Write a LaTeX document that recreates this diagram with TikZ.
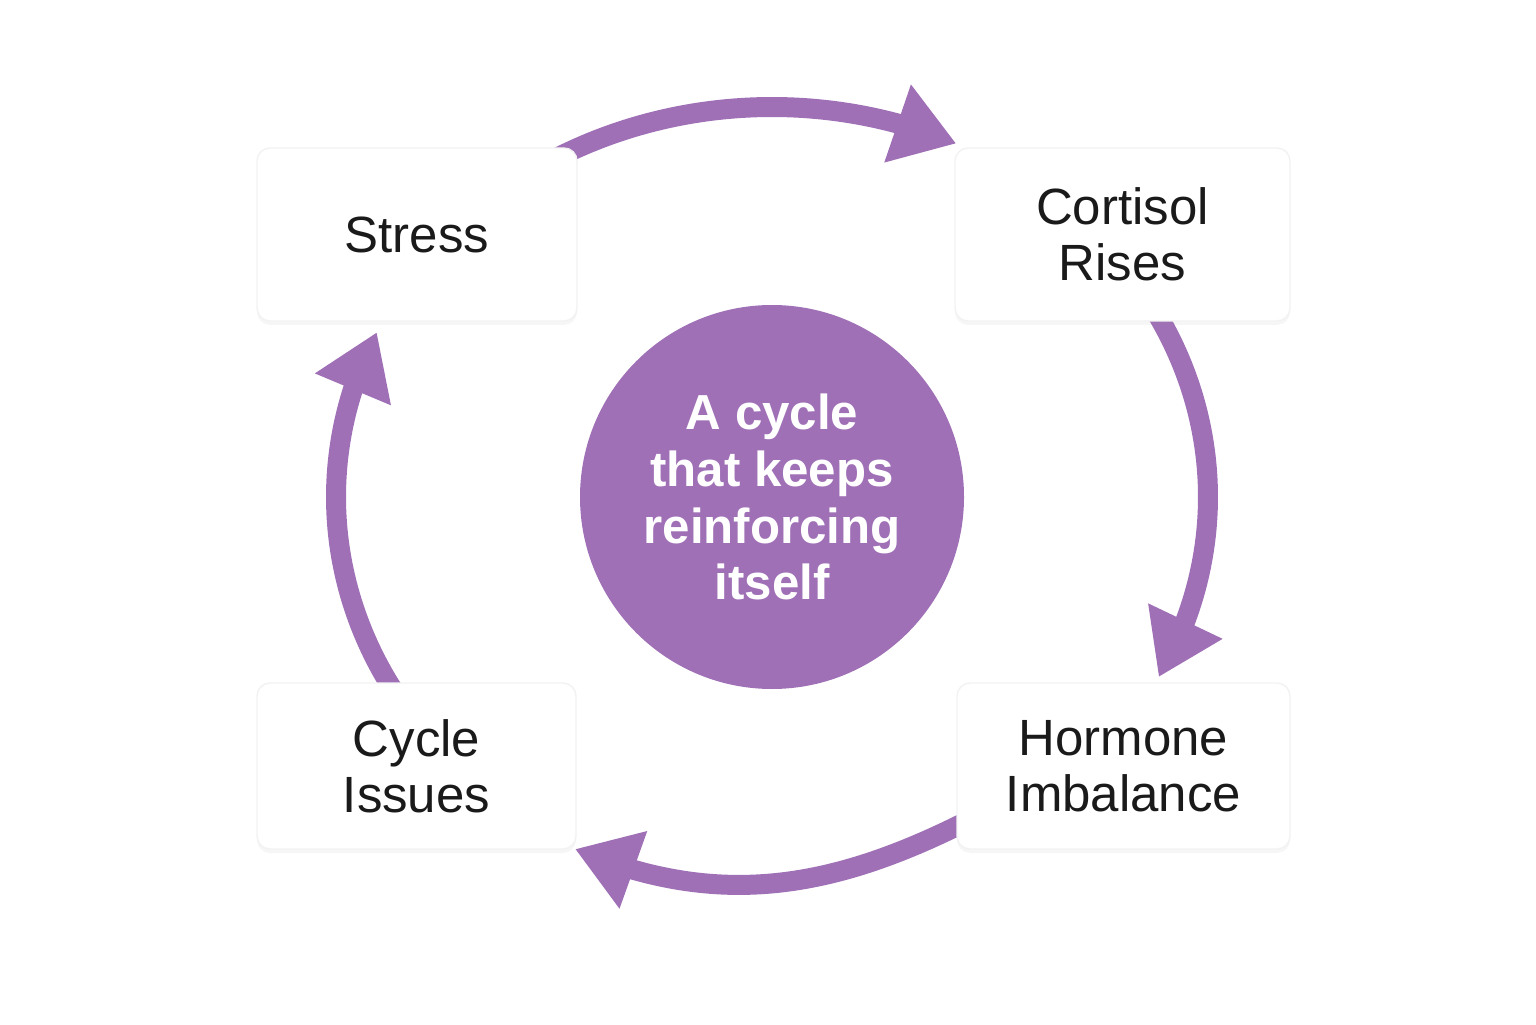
\documentclass[tikz,border=0pt]{standalone}
\usepackage{fontspec}
\setmainfont{Liberation Sans}
\usetikzlibrary{arrows.meta}
\usetikzlibrary{bending}
\usetikzlibrary{shadows}
\usetikzlibrary{backgrounds}
\usetikzlibrary{calc}
\definecolor{cyclepurple}{RGB}{160,112,183}
\definecolor{labelgray}{RGB}{26,26,26}

\begin{document}
\begin{tikzpicture}[>={Triangle[length=0.62cm,width=0.78cm,flex]},
    stage/.style={rectangle, rounded corners=0.13cm, fill=white, draw=black!5,
      drop shadow={opacity=0.07, shadow xshift=0cm, shadow yshift=-0.04cm},
      align=center, text=labelgray, inner sep=0pt,
      font=\fontsize{14.5}{16}\selectfont},
    cyclearrow/.style={->, line width=0.2cm, cyclepurple}]
  \useasboundingbox (0,0) rectangle (15.36,10.24);

  \node[circle, fill=cyclepurple, minimum size=3.84cm, inner sep=0pt, align=center,
        text=white, font=\bfseries\fontsize{14}{16.2}\selectfont]
        (hub) at (7.72,5.27) {A cycle\\that keeps\\reinforcing\\itself};

  \node[stage, minimum width=3.20cm, minimum height=1.73cm] (stress)    at ( 4.17,7.895) {Stress};
  \node[stage, minimum width=3.35cm, minimum height=1.73cm] (cortisol)  at (11.225,7.895) {Cortisol\\Rises};
  \node[stage, minimum width=3.33cm, minimum height=1.66cm] (hormone)   at (11.235,2.58) {Hormone\\Imbalance};
  \node[stage, minimum width=3.19cm, minimum height=1.66cm] (cycleiss)  at ( 4.165,2.58) {Cycle\\Issues};

  \coordinate (stressout)   at ($(hub)+(122:4.36 and 3.90)$);
  \coordinate (cortisolout) at ($(hub)+( 33:4.36 and 3.90)$);
  \coordinate (hormoneout)  at ($(hormone.west)+(0.15,-0.53)$);
  \coordinate (cycleout)    at ($(hub)+(212:4.36 and 3.90)$);
  \coordinate (cyclein)     at (5.75,1.75);

  \begin{scope}[on background layer]
    \draw[cyclearrow] (stressout)   arc[start angle=122, end angle=65,     x radius=4.36, y radius=3.90];
    \draw[cyclearrow] (cortisolout) arc[start angle=33,  end angle=-27.5,  x radius=4.36, y radius=3.90];
    \draw[cyclearrow] (hormoneout)  to[out=207, in=-23] (cyclein);
    \draw[cyclearrow] (cycleout)    arc[start angle=212, end angle=155,    x radius=4.36, y radius=3.90];
  \end{scope}
\end{tikzpicture}
\end{document}
